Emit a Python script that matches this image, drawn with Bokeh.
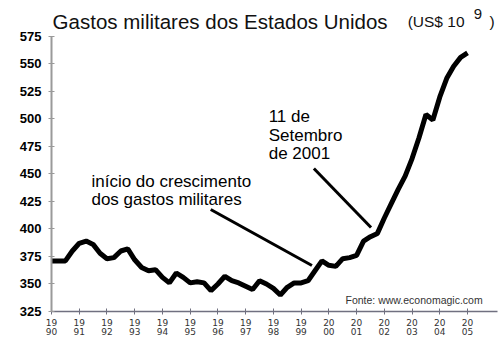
from bokeh.plotting import figure
from bokeh.models import FixedTicker, Range1d
from bokeh.core.properties import value
from bokeh.embed import file_html
from bokeh.resources import INLINE

# --- data (quarterly, US$ bi) ---
years = [
    1990.00, 1990.25, 1990.50, 1990.75, 1991.00, 1991.25, 1991.50, 1991.75,
    1992.00, 1992.25, 1992.50, 1992.75, 1993.00, 1993.25, 1993.50, 1993.75,
    1994.00, 1994.25, 1994.50, 1994.75, 1995.00, 1995.25, 1995.50, 1995.75,
    1996.00, 1996.25, 1996.50, 1996.75, 1997.00, 1997.25, 1997.50, 1997.75,
    1998.00, 1998.25, 1998.50, 1998.75, 1999.00, 1999.25, 1999.50, 1999.75,
    2000.00, 2000.25, 2000.50, 2000.75, 2001.00, 2001.25, 2001.50, 2001.75,
    2002.00, 2002.25, 2002.50, 2002.75, 2003.00, 2003.25, 2003.50, 2003.75,
    2004.00, 2004.25, 2004.50, 2004.75, 2005.00,
]
spending = [
    371, 371, 371, 380, 387, 389, 386, 378,
    373, 374, 380, 382, 372, 365, 362, 363,
    356, 351, 360, 356, 351, 352, 351, 344,
    350, 357, 353, 351, 348, 345, 353, 350,
    346, 340, 347, 351, 351, 353, 362, 371,
    367, 366, 373, 374, 376, 389, 393, 396,
    410, 423, 436, 448, 464, 483, 504, 499,
    520, 537, 548, 556, 560,
]
y_ticks = [325, 350, 375, 400, 425, 450, 475, 500, 525, 550, 575]
x_ticks = list(range(1990, 2006))
x_tick_labels = {y: str(y)[:2] + "\n" + str(y)[2:] for y in x_ticks}

title_text = "Gastos militares dos Estados Unidos"
unit_text = "(US$ 10"
unit_exp = "9"
note1_lines = ["início do crescimento", "dos gastos militares"]
note2_lines = ["11 de", "Setembro", "de 2001"]
source_text = "Fonte: www.economagic.com"

p = figure(width=499, height=345, output_backend="svg", toolbar_location=None,
           min_border_left=51, min_border_right=2, min_border_top=0, min_border_bottom=34,
           x_range=Range1d(1990, 2006.08), y_range=Range1d(325, 607.7))
p.background_fill_color = "white"
p.border_fill_color = "white"
p.outline_line_color = None
p.grid.visible = False

p.line(years, spending, line_color="black", line_width=5)

# axes
p.yaxis.ticker = FixedTicker(ticks=y_ticks)
p.yaxis.bounds = (325, 575)
p.yaxis.axis_line_color = "#9a9a9a"
p.yaxis.axis_line_width = 2
p.yaxis.major_tick_line_color = "#9a9a9a"
p.yaxis.major_tick_in = 3
p.yaxis.major_tick_out = 3
p.yaxis.minor_tick_line_color = None
p.yaxis.major_label_text_font = "Liberation Sans"
p.yaxis.major_label_text_font_style = "bold"
p.yaxis.major_label_text_font_size = "13px"
p.yaxis.major_label_text_color = "black"
p.yaxis.major_label_standoff = 7

p.xaxis.ticker = FixedTicker(ticks=x_ticks)
p.xaxis.major_label_overrides = x_tick_labels
p.xaxis.bounds = (1990, 2006.08)
p.xaxis.axis_line_color = "#707080"
p.xaxis.axis_line_width = 1.5
p.xaxis.major_tick_line_color = "#707080"
p.xaxis.major_tick_in = 3
p.xaxis.major_tick_out = 3
p.xaxis.minor_tick_line_color = None
p.xaxis.major_label_text_font = "DejaVu Sans"
p.xaxis.major_label_text_font_size = "9px"
p.xaxis.major_label_text_color = "#333333"
p.xaxis.major_label_standoff = 3
p.xaxis.major_label_text_line_height = 0.95

# titles
p.text(x=[1990.04], y=[588.5], text=[title_text], text_font=value("Liberation Sans"),
       text_font_size="20.5px", text_color="#111111", text_baseline="alphabetic")
p.text(x=[2002.84], y=[588.5], text=[unit_text], text_font=value("Liberation Sans"),
       text_font_size="15.5px", text_color="#111111", text_baseline="alphabetic")
p.text(x=[2005.22], y=[595.0], text=[unit_exp], text_font=value("Liberation Sans"),
       text_font_size="15px", text_color="#111111", text_baseline="alphabetic")
p.text(x=[2005.79], y=[588.5], text=[")"], text_font=value("Liberation Sans"),
       text_font_size="15.5px", text_color="#111111", text_baseline="alphabetic")

# annotations
p.text(x=[1991.44, 1991.44], y=[443.2, 426.8], text=note1_lines,
       text_font=value("Liberation Sans"), text_font_size="17px", text_color="black",
       text_baseline="alphabetic")
p.text(x=[1997.83, 1997.83, 1997.83], y=[502.3, 485.3, 468.6], text=note2_lines,
       text_font=value("Liberation Sans"), text_font_size="17px", text_color="black",
       text_baseline="alphabetic")
p.segment(x0=[1995.74, 1999.46], y0=[417.7, 455.0], x1=[1999.39, 2001.52], y1=[366.8, 401.4],
          line_color="black", line_width=3)

p.text(x=[2000.6], y=[335], text=[source_text], text_font=value("Liberation Sans"),
       text_font_size="10.5px", text_color="#333333", text_baseline="alphabetic")

open("out.html", "w").write(file_html(p, INLINE))
